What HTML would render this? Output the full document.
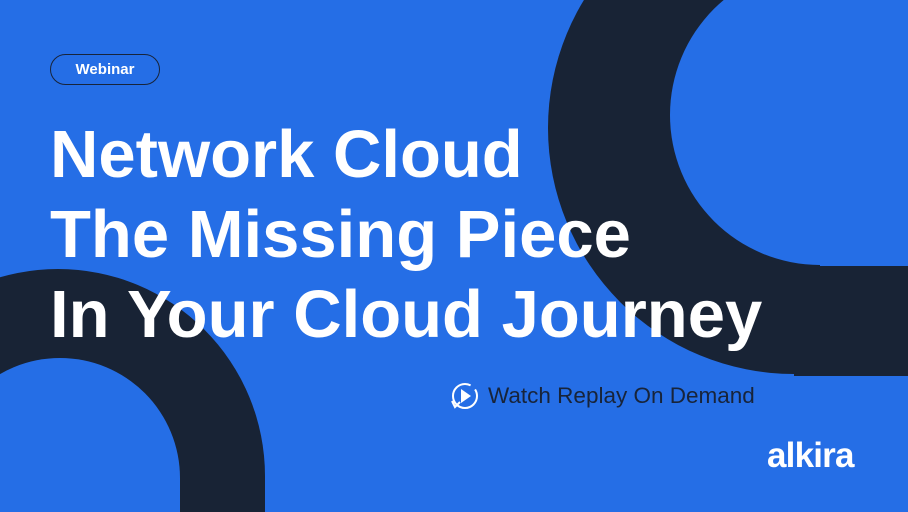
<!DOCTYPE html>
<html><head><meta charset="utf-8"><style>
html,body{margin:0;padding:0;width:908px;height:512px;overflow:hidden}
body{background:#256ee6;position:relative;font-family:"Liberation Sans",sans-serif}
svg{position:absolute;left:0;top:0}
.t{position:absolute;left:50px;color:#fff;font-weight:bold;font-size:67px;line-height:1;white-space:nowrap;letter-spacing:0}
.pill{position:absolute;left:50px;top:54px;width:108px;height:29px;border:1.5px solid #18243a;border-radius:16px;color:#fff;font-weight:bold;font-size:15px;text-align:center;line-height:29px}
.w{position:absolute;left:488px;top:383px;font-size:22.5px;color:#18243a;white-space:nowrap}
.logo{position:absolute;left:767px;top:436px;font-size:35px;color:#fff;font-weight:bold;letter-spacing:-0.8px}
</style></head><body>
<svg width="908" height="512" viewBox="0 0 908 512">
<circle cx="794" cy="128" r="246" fill="#182335"/>
<rect x="794" y="0" width="114" height="376" fill="#182335"/>
<circle cx="820" cy="115" r="150" fill="#256ee6"/>
<rect x="820" y="0" width="88" height="266" fill="#256ee6"/>
<circle cx="58" cy="476" r="207" fill="#182335"/>
<rect x="0" y="476" width="265" height="36" fill="#182335"/>
<circle cx="60" cy="478" r="120" fill="#256ee6"/>
<rect x="0" y="478" width="180" height="34" fill="#256ee6"/>
<circle cx="465" cy="396" r="12" fill="none" stroke="#fff" stroke-width="2" stroke-dasharray="62 6"/>
<path d="M461 389 L471 396 L461 403Z" fill="#fff"/>
<path d="M452 401 L455 407 L460 402" fill="none" stroke="#fff" stroke-width="2"/>
</svg>
<div class="pill">Webinar</div>
<div class="t" style="top:121px">Network Cloud</div>
<div class="t" style="top:201px">The Missing Piece</div>
<div class="t" style="top:281px">In Your Cloud Journey</div>
<div class="w">Watch Replay On Demand</div>
<div class="logo">alkira</div>
</body></html>
